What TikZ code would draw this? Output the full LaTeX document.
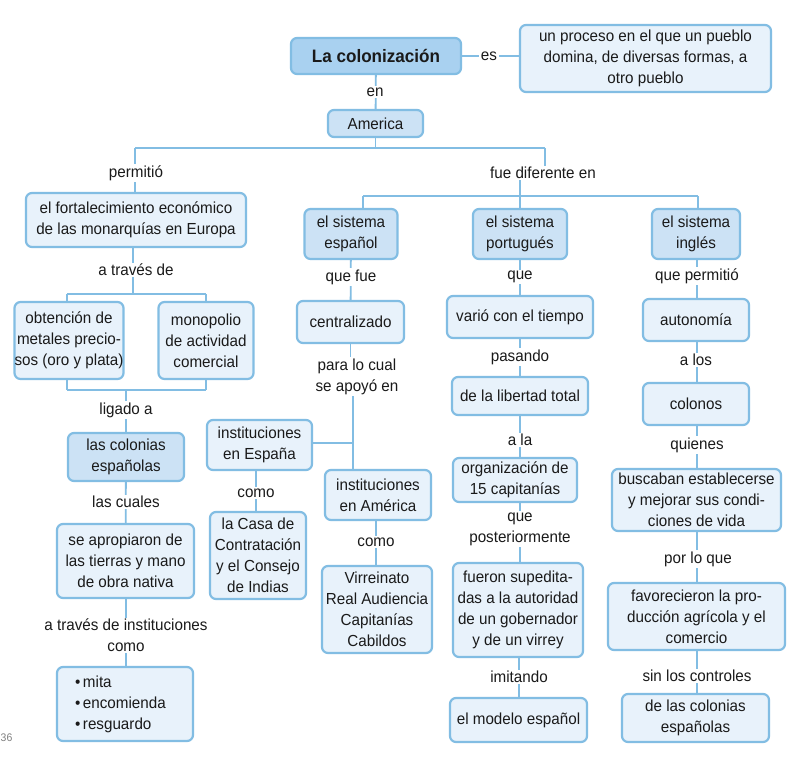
\documentclass[tikz,border=0pt]{standalone}
\usepackage{fontspec}
\setmainfont{Liberation Sans}[FakeStretch=0.95]
\usetikzlibrary{backgrounds}
\definecolor{bord}{HTML}{82BDE3}
\definecolor{lightc}{HTML}{E8F2FB}
\definecolor{midc}{HTML}{CCE2F5}
\definecolor{titlec}{HTML}{A9D1F0}
\definecolor{txt}{HTML}{1A1A1A}
\begin{document}
\begin{tikzpicture}[x=1pt,y=-1pt,
  box/.style={draw=bord, line width=2.2pt, rounded corners=6pt, fill=lightc, align=center, inner sep=0pt, text=txt, font=\fontsize{16}{21}\selectfont},
  midbox/.style={box, fill=midc},
  titlebox/.style={box, fill=titlec, font=\fontsize{18}{22}\selectfont\bfseries},
  lbl/.style={fill=white, inner sep=1.5pt, align=center, text=txt, font=\fontsize{16}{21}\selectfont},
  conn/.style={draw=bord, line width=1.8pt}]
\useasboundingbox (0,0) rectangle (805,760);

% boxes
\node[titlebox, minimum width=170pt, minimum height=36pt] (col) at (376,56) {La colonización};
\node[box, minimum width=251pt, minimum height=67pt] (def) at (645.5,58.5) {un proceso en el que un pueblo\\domina, de diversas formas, a\\otro pueblo};
\node[midbox, minimum width=95pt, minimum height=27pt] (am) at (375.5,123.5) {America};

\node[box, minimum width=220pt, minimum height=54pt] (fort) at (136,220) {el fortalecimiento económico\\de las monarquías en Europa};
\node[midbox, minimum width=93pt, minimum height=50pt] (esp) at (351,234) {el sistema\\español};
\node[midbox, minimum width=94pt, minimum height=50pt] (por) at (520,234) {el sistema\\portugués};
\node[midbox, minimum width=88pt, minimum height=50pt] (ing) at (696,234) {el sistema\\inglés};

\node[box, minimum width=108pt, minimum height=77pt] (obt) at (69,340.5) {obtención de\\metales precio-\\sos (oro y plata)};
\node[box, minimum width=95pt, minimum height=77pt] (mon) at (206,340.5) {monopolio\\de actividad\\comercial};
\node[midbox, minimum width=116pt, minimum height=48pt] (colon) at (126,457) {las colonias\\españolas};
\node[box, minimum width=137pt, minimum height=74pt] (apro) at (125.5,561) {se apropiaron de\\las tierras y mano\\de obra nativa};
\node[box, minimum width=136pt, minimum height=74pt, text width=100pt, align=left] (bul) at (125,704) {•\,mita\\•\,encomienda\\•\,resguardo};

\node[box, minimum width=107pt, minimum height=42pt] (cen) at (350.5,322) {centralizado};
\node[box, minimum width=105pt, minimum height=50pt] (inE) at (259.5,445) {instituciones\\en España};
\node[box, minimum width=96pt, minimum height=87pt] (casa) at (258,555.5) {la Casa de\\Contratación\\y el Consejo\\de Indias};
\node[box, minimum width=106pt, minimum height=50pt] (inA) at (378,495) {instituciones\\en América};
\node[box, minimum width=110pt, minimum height=87pt] (vir) at (377,609.5) {Virreinato\\Real Audiencia\\Capitanías\\Cabildos};

\node[box, minimum width=146pt, minimum height=42pt] (var) at (520,317) {varió con el tiempo};
\node[box, minimum width=136pt, minimum height=38pt] (lib) at (520,396) {de la libertad total};
\node[box, minimum width=124pt, minimum height=44pt] (org) at (515,480) {organización de\\15 capitanías};
\node[box, minimum width=130pt, minimum height=94pt] (sup) at (518,610) {fueron supedita-\\das a la autoridad\\de un gobernador\\y de un virrey};
\node[box, minimum width=137pt, minimum height=44pt] (mod) at (518.5,720) {el modelo español};

\node[box, minimum width=106pt, minimum height=42pt] (aut) at (696,320) {autonomía};
\node[box, minimum width=106pt, minimum height=42pt] (colo) at (696,404) {colonos};
\node[box, minimum width=169pt, minimum height=62pt] (bus) at (696.5,500) {buscaban establecerse\\y mejorar sus condi-\\ciones de vida};
\node[box, minimum width=177pt, minimum height=67pt] (fav) at (696.5,616.5) {favorecieron la pro-\\ducción agrícola y el\\comercio};
\node[box, minimum width=147pt, minimum height=48pt] (dlc) at (695.5,718) {de las colonias\\españolas};

% labels
\node[lbl] (les) at (489,56) {es};
\node[lbl] (len) at (375,92) {en};
\node[lbl] (lperm) at (136,173) {permitió};
\node[lbl] (lfue) at (543,173) {fue diferente en};
\node[lbl] (latr) at (136,270) {a través de};
\node[lbl] (llig) at (126,410) {ligado a};
\node[lbl] (lcua) at (126,502) {las cuales};
\node[lbl] (linst) at (126,635.5) {a través de instituciones\\como};
\node[lbl] (lqf) at (351,277) {que fue};
\node[lbl] (lpara) at (357,376.5) {para lo cual\\se apoyó en};
\node[lbl] (lcomoE) at (256,493) {como};
\node[lbl] (lcomoA) at (376,542) {como};
\node[lbl] (lque) at (520,277) {que};
\node[lbl] (lpas) at (520,357) {pasando};
\node[lbl] (lala) at (520,440) {a la};
\node[lbl] (lpost) at (520,529) {que\\posteriormente};
\node[lbl] (limit) at (519,677) {imitando};
\node[lbl] (lqp) at (697,276) {que permitió};
\node[lbl] (lalos) at (696,360) {a los};
\node[lbl] (lqui) at (697,445) {quienes};
\node[lbl] (lplq) at (698,559) {por lo que};
\node[lbl] (lsin) at (697,676) {sin los controles};

\node[text=gray, font=\fontsize{11}{13}\selectfont, anchor=west, inner sep=0pt] (pg) at (0.5,738) {36};

% junction coordinates
\coordinate (h1L) at (135,148);
\coordinate (h1R) at (545,148);
\coordinate (h1M) at (375.5,148);
\coordinate (h2L) at (363,196);
\coordinate (h2M) at (520,196);
\coordinate (h2R) at (698,196);
\coordinate (h3L) at (67,294);
\coordinate (h3M) at (133,294);
\coordinate (h3R) at (206,294);
\coordinate (h4L) at (67,390);
\coordinate (h4M) at (126,390);
\coordinate (h4R) at (206,390);
\coordinate (jE) at (353,443);
\coordinate (jT) at (353,390);

\begin{scope}[on background layer]
\fill[white] (0,0) rectangle (805,760);
\draw[conn] (col.east) -- (col.east -| def.west);
\draw[conn] (col) -- (am);
\draw[conn] (am) -- (h1M);
\draw[conn] (h1L) -- (h1R);
\draw[conn] (h1L) -- (h1L |- fort.north);
\draw[conn] (h1R) -- (h1R |- lfue.center);
\draw[conn] (h2M |- lfue.center) -- (h2M);
\draw[conn] (h2L) -- (h2R);
\draw[conn] (h2L) -- (h2L |- esp.north);
\draw[conn] (h2M) -- (por);
\draw[conn] (h2R) -- (h2R |- ing.north);
% left
\draw[conn] (fort.south -| h3M) -- (h3M);
\draw[conn] (h3L) -- (h3R);
\draw[conn] (h3L) -- (h3L |- obt.north);
\draw[conn] (h3R) -- (mon);
\draw[conn] (h4L |- obt.south) -- (h4L);
\draw[conn] (h4R) -- (mon);
\draw[conn] (h4L) -- (h4R);
\draw[conn] (h4M) -- (colon);
\draw[conn] (colon) -- (apro);
\draw[conn] (apro.south -| colon) -- (bul.north -| colon);
% espanol
\draw[conn] (esp) -- (cen);
\draw[conn] (cen) -- (lpara.center -| cen);
\draw[conn] (jT |- lpara.center) -- (jT |- inA.north);
\draw[conn] (jE) -- (jE -| inE.east);
\draw[conn] (inE.south -| lcomoE) -- (lcomoE |- casa.north);
\draw[conn] (inA.south -| lcomoA) -- (lcomoA |- vir.north);
% portugues
\draw[conn] (por) -- (var);
\draw[conn] (var) -- (lib);
\draw[conn] (lib) -- (lib |- org.north);
\draw[conn] (org.south -| lib) -- (lib |- sup.north);
\draw[conn] (sup.south -| limit) -- (limit |- mod.north);
% ingles
\draw[conn] (ing.south -| lqp) -- (lqp |- aut.north);
\draw[conn] (aut.south -| lqp) -- (lqp |- colo.north);
\draw[conn] (colo.south -| lqp) -- (lqp |- bus.north);
\draw[conn] (bus.south -| lqp) -- (lqp |- fav.north);
\draw[conn] (fav.south -| lqp) -- (lqp |- dlc.north);
\end{scope}
\end{tikzpicture}
\end{document}
